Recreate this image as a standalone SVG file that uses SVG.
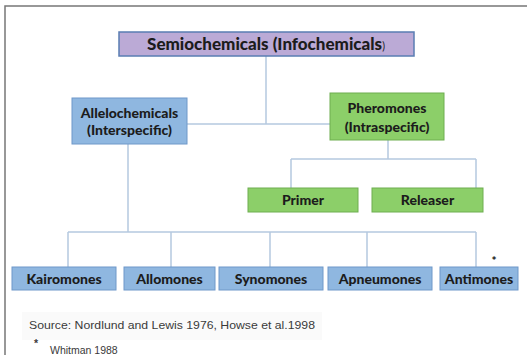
<svg xmlns="http://www.w3.org/2000/svg" width="527" height="355" viewBox="0 0 527 355">
<style>
.lbl{font-family:Lato,"Open Sans","Liberation Sans",sans-serif;font-weight:900;fill:#1c1c1c;text-anchor:middle;font-size:14px}
.blue{fill:#8fb7e0;stroke:#6f98c9;stroke-width:1}
.green{fill:#8ccf69;stroke:#6eae50;stroke-width:1}
.purple{fill:#bbaad6;stroke:#5a7db3;stroke-width:1.5}
.conn{fill:none;stroke:#b5c9e0;stroke-width:1.5}
.src{font-family:"Liberation Sans",Arial,sans-serif;fill:#3a3a3a;font-size:10.5px}
</style>
<rect x="5" y="6" width="540" height="380" fill="#ffffff" stroke="#777777" stroke-width="1.5"/>
<rect x="22" y="312" width="300" height="28" fill="#fafafa"/>
<g id="connectors">
<path class="conn" d="M266,56 V124 M187,124 H330"/>
<path class="conn" d="M388,140 V159 M291,159 H476 M291,159 V188 M476,159 V188"/>
<path class="conn" d="M128,144 V232 M68,232 H476 M68,232 V267 M171,232 V267 M270,232 V267 M367,232 V267 M476,232 V267"/>
</g>
<g id="semiochemicals">
<rect class="purple" x="119" y="32" width="295" height="24"/>
<text class="lbl" x="266" y="50" style="font-size:17px">Semiochemicals (Infochemicals<tspan font-size="10.5" font-weight="normal">)</tspan></text>
</g>
<g id="allelochemicals">
<rect class="blue" x="72" y="98" width="115" height="46"/>
<text class="lbl" x="129.5" y="117.5">Allelochemicals</text>
<text class="lbl" x="129.5" y="135">(Interspecific)</text>
</g>
<g id="pheromones">
<rect class="green" x="330" y="93" width="114" height="47"/>
<text class="lbl" x="387" y="112.5">Pheromones</text>
<text class="lbl" x="387" y="131.5">(Intraspecific)</text>
</g>
<g id="primer">
<rect class="green" x="248" y="188" width="110" height="24"/>
<text class="lbl" x="303" y="205">Primer</text>
</g>
<g id="releaser">
<rect class="green" x="372" y="188" width="111" height="24"/>
<text class="lbl" x="427.5" y="205">Releaser</text>
</g>
<g id="kairomones">
<rect class="blue" x="12" y="267" width="104" height="23"/>
<text class="lbl" x="64" y="283.5">Kairomones</text>
</g>
<g id="allomones">
<rect class="blue" x="124" y="267" width="91" height="23"/>
<text class="lbl" x="169.5" y="283.5">Allomones</text>
</g>
<g id="synomones">
<rect class="blue" x="219" y="267" width="104" height="23"/>
<text class="lbl" x="271" y="283.5">Synomones</text>
</g>
<g id="apneumones">
<rect class="blue" x="328" y="267" width="104" height="23"/>
<text class="lbl" x="380" y="283.5">Apneumones</text>
</g>
<g id="antimones">
<rect class="blue" x="440" y="267" width="78" height="23"/>
<text class="lbl" x="479" y="283.5">Antimones</text>
<text class="lbl" x="494" y="265" style="font-size:12px">*</text>
</g>
<text class="src" x="29" y="329" textLength="286" lengthAdjust="spacingAndGlyphs">Source: Nordlund  and Lewis 1976, Howse et al.1998</text>
<text class="src" x="34" y="347" font-size="12" font-weight="bold">*</text>
<text class="src" x="50" y="353.5" font-size="9.5">Whitman 1988</text>
</svg>
